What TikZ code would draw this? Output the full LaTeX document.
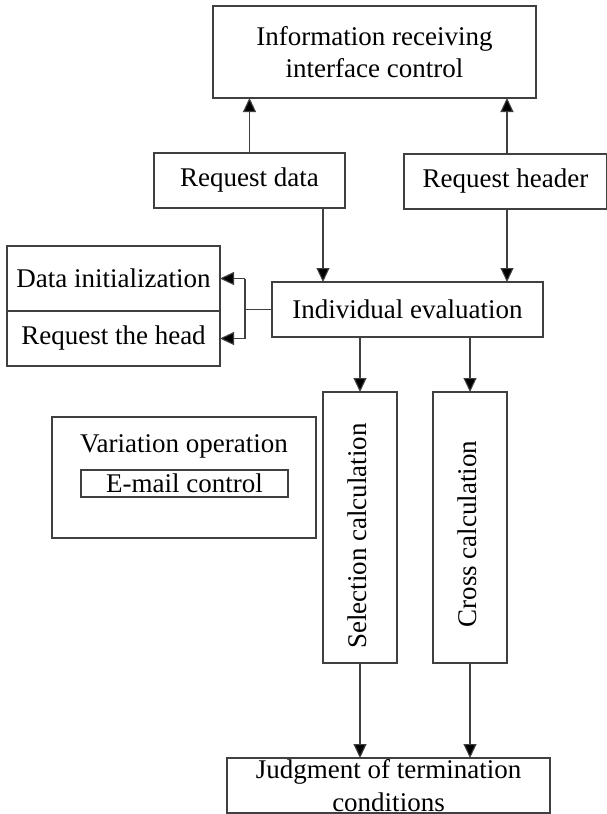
\documentclass[tikz,border=0pt]{standalone}
\usepackage{fontspec}
\setmainfont{Liberation Serif}
\usetikzlibrary{arrows.meta}
\begin{document}
\begin{tikzpicture}[x=1pt,y=-1pt,
  box/.style={draw=black!75, line width=1.1pt, inner sep=0pt, outer sep=0pt, align=center,
    font=\fontsize{27}{32}\selectfont},
  conn/.style={draw=black!75, line width=1.1pt},
  arr/.style={conn, -{Triangle[length=14pt,width=13pt,fill=black]}}]
\useasboundingbox (0,0) rectangle (607,814);
\fill[white] (0,0) rectangle (607,814);
% boxes
\node[box, minimum width=323, minimum height=92] (top) at (374.5,52) {Information receiving\\interface control};
\node[box, minimum width=191, minimum height=55] (rd) at (249.5,180.5) {Request data};
\node[box, minimum width=203, minimum height=55] (rh) at (505.5,181.5) {Request header};
\node[box, minimum width=271, minimum height=55] (ie) at (407.5,309.5) {Individual evaluation};
\node[box, minimum width=213, minimum height=65] (di) at (113.5,278.5) {Data initialization};
\node[box, minimum width=213, minimum height=55] (rth) at (113.5,338.5) {Request the head};
\node[box, minimum width=264, minimum height=121] (vo) at (184,477.5) {};
\node[font=\fontsize{27}{32}\selectfont, inner sep=0pt] (vot) at (184,446) {Variation operation};
\node[box, minimum width=207, minimum height=27] (em) at (184.5,483.5) {E-mail control};
\node[box, minimum width=74, minimum height=271] (sel) at (360,527.5) {};
\node[font=\fontsize{27}{32}\selectfont, inner sep=0pt, rotate=90] (selt) at (357,536) {Selection calculation};
\node[box, minimum width=74, minimum height=271] (crs) at (470,527.5) {};
\node[font=\fontsize{27}{32}\selectfont, inner sep=0pt, rotate=90] (crst) at (467,534) {Cross calculation};
\node[box, minimum width=323, minimum height=55, font=\fontsize{27}{33}\selectfont] (jt) at (388.5,785.5) {Judgment of termination\\conditions};
% connectors
\draw[arr] (rd.north) -- (rd.north |- top.south);
\draw[arr] ([xshift=1.5pt]rh.north) -- ([xshift=1.5pt]rh.north |- top.south);
\draw[arr] ([xshift=73.5pt]rd.south) -- ([xshift=73.5pt]rd.south |- ie.north);
\draw[arr] ([xshift=1.5pt]rh.south) -- ([xshift=1.5pt]rh.south |- ie.north);
\coordinate (br) at ([xshift=-27pt]ie.west);
\draw[conn] (ie.west) -- (br);
\draw[arr] (br |- di.east) -- (di.east);
\draw[arr] (br |- rth.east) -- (rth.east);
\draw[conn] (br |- di.east) -- (br |- rth.east);
\draw[arr] (ie.south -| sel.north) -- (sel.north);
\draw[arr] (ie.south -| crs.north) -- (crs.north);
\draw[arr] (sel.south) -- (sel.south |- jt.north);
\draw[arr] (crs.south) -- (crs.south |- jt.north);
\end{tikzpicture}
\end{document}
